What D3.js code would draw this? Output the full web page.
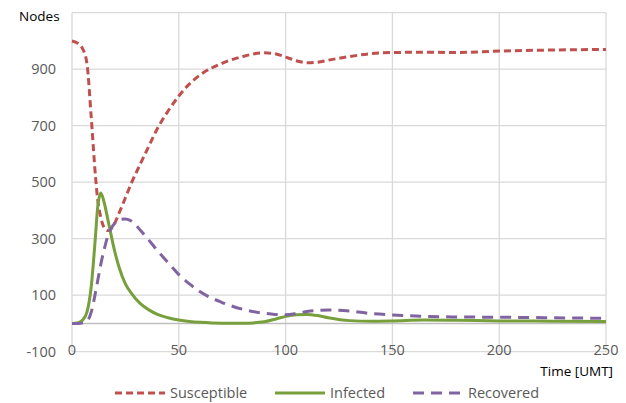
<!DOCTYPE html>
<html>
<head>
<meta charset="utf-8">
<script src="https://cdn.jsdelivr.net/npm/d3@7"></script>
<style>
  body { margin: 0; background: #fff; }
  text { font-family: "Open Sans", sans-serif; }
</style>
</head>
<body>
<svg width="626" height="403"></svg>
<script>
// Data
const time = [0, 3, 5, 7, 9, 11, 12, 13.5, 15, 17, 20, 22, 25, 28, 32, 36, 40, 45, 50, 55, 60, 70, 80, 90, 95, 100, 105, 110, 115, 120, 130, 140, 150, 165, 180, 200, 225, 250]
const susceptible = [1000, 990, 972, 920, 730, 520, 440, 375, 340, 329, 355, 390, 445, 500, 565, 628, 690, 752, 805, 848, 880, 920, 945, 958, 955, 943, 930, 923, 925, 932, 945, 955, 959, 960, 959, 964, 968, 970]
const infected = [0, 3, 12, 40, 130, 310, 410, 462, 430, 360, 255, 200, 140, 105, 70, 48, 32, 20, 12, 7, 4, 1, 1, 6, 15, 25, 31, 32, 28, 20, 10, 8, 9, 12, 11, 9, 8, 7]
const recovered = [0, 0, 2, 8, 40, 110, 150, 210, 260, 315, 355, 366, 370, 362, 330, 295, 258, 215, 173, 140, 112, 75, 50, 36, 32, 31, 35, 42, 46, 48, 44, 35, 30, 25, 23, 22, 20, 18]
const xTicks = [0, 50, 100, 150, 200, 250]
const yTicks = [-100, 100, 300, 500, 700, 900]

const series = [
    {name: 'Susceptible', values: susceptible, color: '#c0504d', dash: '7,4'},
    {name: 'Infected', values: infected, color: '#77a03c', dash: null},
    {name: 'Recovered', values: recovered, color: '#8064a2', dash: '11,7'}
]

// Set up
const svg = d3.select('svg')
const x = d3.scaleLinear().domain([0, 250]).range([72, 606])
const y = d3.scaleLinear().domain([-100, 1100]).range([351.7, 12.7])

// grid
svg.append('g')
    .selectAll('line')
    .data(d3.range(-100, 1101, 200))
    .join('line')
    .attr('x1', x(0)).attr('x2', x(250))
    .attr('y1', d => y(d)).attr('y2', d => y(d))
    .attr('stroke', '#d9d9d9').attr('stroke-width', 1.3)

svg.append('g')
    .selectAll('line')
    .data(xTicks)
    .join('line')
    .attr('x1', d => x(d)).attr('x2', d => x(d))
    .attr('y1', y(-100)).attr('y2', y(1100))
    .attr('stroke', '#d9d9d9').attr('stroke-width', 1.3)

// zero line
svg.append('line')
    .attr('x1', x(0)).attr('x2', x(250))
    .attr('y1', y(0)).attr('y2', y(0))
    .attr('stroke', '#bfbfbf').attr('stroke-width', 1.5)

// tick labels
svg.append('g')
    .selectAll('text')
    .data(yTicks)
    .join('text')
    .attr('x', 56).attr('y', d => y(d))
    .attr('dy', '0.35em')
    .attr('text-anchor', 'end')
    .attr('font-size', 14.5)
    .attr('fill', '#595959')
    .text(d => d)

svg.append('g')
    .selectAll('text')
    .data(xTicks)
    .join('text')
    .attr('x', d => x(d)).attr('y', 350)
    .attr('dy', '0.35em')
    .attr('text-anchor', 'middle')
    .attr('font-size', 14.5)
    .attr('fill', '#595959')
    .text(d => d)

svg.append('text')
    .attr('x', 19).attr('y', 21)
    .attr('font-size', 13.5)
    .attr('fill', '#000')
    .text('Nodes')

svg.append('text')
    .attr('x', 613).attr('y', 376)
    .attr('text-anchor', 'end')
    .attr('font-size', 13.5)
    .attr('fill', '#000')
    .text('Time [UMT]')

// lines
const line = d3.line()
    .x((d, i) => x(time[i]))
    .y(d => y(d))
    .curve(d3.curveMonotoneX)

svg.append('g')
    .selectAll('path')
    .data(series)
    .join('path')
    .attr('d', d => line(d.values))
    .attr('fill', 'none')
    .attr('stroke', d => d.color)
    .attr('stroke-width', 3)
    .attr('stroke-dasharray', d => d.dash)

// legend
const legendX = [115, 275, 413]
const legend = svg.append('g')
    .selectAll('g')
    .data(series)
    .join('g')
    .attr('transform', (d, i) => `translate(${legendX[i]},393)`)

legend.append('line')
    .attr('x1', 0).attr('x2', 50)
    .attr('stroke', d => d.color)
    .attr('stroke-width', 3)
    .attr('stroke-dasharray', d => d.dash)

legend.append('text')
    .attr('x', 55).attr('dy', '0.35em')
    .attr('font-size', 14.5)
    .attr('fill', '#595959')
    .text(d => d.name)
</script>
</body>
</html>
